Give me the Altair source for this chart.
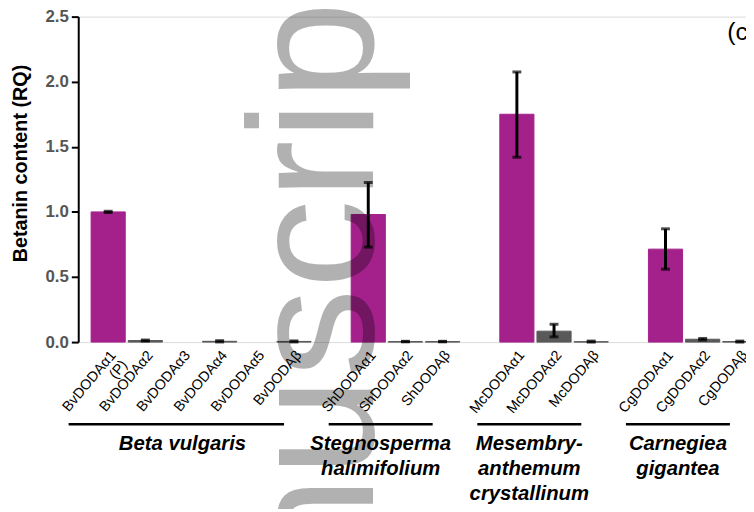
import altair as alt
import pandas as pd

FONT = "Liberation Sans, Arial, Helvetica, sans-serif"

# ---- data -------------------------------------------------------------
bv = ["BvDODAα1 (P)", "BvDODAα2", "BvDODAα3", "BvDODAα4", "BvDODAα5", "BvDODAβ"]
sh = ["ShDODAα1", "ShDODAα2", "ShDODAβ"]
mc = ["McDODAα1", "McDODAα2", "McDODAβ"]
cg = ["CgDODAα1", "CgDODAα2", "CgDODAβ"]
genes = bv + sh + mc + cg

values   = [1.00, 0.012, 0.0, 0.006, 0.0, 0.005,
            0.98, 0.004, 0.004,
            1.75, 0.084, 0.003,
            0.714, 0.022, 0.004]
err_low  = [0.995, 0.008, None, 0.001, None, 0.001,
            0.73, 0.002, 0.002,
            1.42, 0.04, 0.0,
            0.56, 0.016, 0.0]
err_high = [1.005, 0.016, None, 0.011, None, 0.009,
            1.226, 0.006, 0.006,
            2.075, 0.137, 0.008,
            0.87, 0.028, 0.008]
kinds = ["alpha1" if "α1" in g else "other" for g in genes]

# slot order along x (empty slots separate species)
slots = bv + ["gap1"] + sh + ["gap2"] + mc + ["gap3"] + cg

species = ["Beta vulgaris", "Stegnosperma\nhalimifolium",
           "Mesembry-\nanthemum\ncrystallinum", "Carnegiea\ngigantea"]
species_first = [bv[0], sh[0], mc[0], cg[0]]
species_last = [bv[-1], sh[-1], mc[-1], cg[-1]]
species_mid = [bv[2], sh[1], mc[1], cg[1]]

panel_label = ["(c)"]
watermark = ["manuscript"]

df = pd.DataFrame({"gene": genes, "value": values, "low": err_low,
                   "high": err_high, "kind": kinds})
sp = pd.DataFrame({"name": species, "first": species_first,
                   "last": species_last, "mid": species_mid,
                   "idx": list(range(len(species)))})

# ---- scales / axes ----------------------------------------------------
xscale = alt.Scale(domain=slots, range=[13, 686], paddingInner=0.081, paddingOuter=0)
nbsp = "\u00a0"
label_expr = ("indexof(datum.label, 'gap') == 0 ? '' : "
              "(datum.label == 'BvDODAα1 (P)' ? ['BvDODAα1', '(P)" + nbsp * 5 + "'] : datum.label)")
xaxis = alt.Axis(title=None, domain=False, ticks=False, labelAngle=-50,
                 labelAlign="right", labelBaseline="top", labelPadding=6,
                 labelFont=FONT, labelFontSize=14.5, labelColor="black",
                 labelExpr=label_expr, labelOverlap=False, labelLineHeight=15,
                 labelBound=False, labelFlush=False)
yscale = alt.Scale(domain=[0, 2.5], nice=False, zero=True)
yaxis = alt.Axis(values=[0, 0.5, 1, 1.5, 2, 2.5], format=".1f", grid=False,
                 labelFont=FONT, labelFontSize=17, labelFontWeight="bold",
                 labelColor="#555555", labelPadding=3,
                 tickColor="black", tickWidth=2, tickSize=7,
                 domainColor="black", domainWidth=2,
                 title="Betanin content (RQ)", titleFont=FONT, titleFontSize=20,
                 titleFontWeight="bold", titleColor="black", titleAngle=270,
                 titleX=-52, titleY=148, titleAlign="center",
                 titleBaseline="alphabetic")

X = lambda f: alt.X(f + ":N", scale=xscale, axis=xaxis, sort=slots, title=None)

color = alt.Color("kind:N", scale=alt.Scale(domain=["alpha1", "other"],
                                             range=["#A4218C", "#595959"]),
                  legend=None)

bars = alt.Chart(df).transform_filter("datum.value > 0").mark_bar(strokeWidth=1).encode(
    x=X("gene"),
    y=alt.Y("value:Q", scale=yscale, axis=yaxis),
    color=color, stroke=color,
)

errdf = alt.Chart(df).transform_filter("isValid(datum.low)")
err_rule = errdf.mark_rule(color="black", strokeWidth=3).encode(
    x=X("gene"),
    y=alt.Y("low:Q", scale=yscale, axis=yaxis),
    y2="high:Q",
)
cap_low = errdf.mark_tick(color="black", thickness=3, size=9).encode(
    x=X("gene"), y=alt.Y("low:Q", scale=yscale, axis=yaxis))
cap_high = errdf.mark_tick(color="black", thickness=3, size=9).encode(
    x=X("gene"), y=alt.Y("high:Q", scale=yscale, axis=yaxis))

group_lines = alt.Chart(sp).mark_rule(color="black", strokeWidth=2.5,
                                      xOffset=-40, x2Offset=-10).encode(
    x=X("first"), x2="last:N", y=alt.value(412))

text_props = dict(font=FONT, fontSize=20.5, fontWeight="bold", fontStyle="italic",
                  align="center", baseline="alphabetic", lineBreak="\n",
                  lineHeight=25.5, color="black")
group_text_bv = alt.Chart(sp).transform_filter("datum.idx == 0").mark_text(
    dx=0, **text_props).encode(x=X("mid"), y=alt.value(438), text="name:N")
group_text_rest = alt.Chart(sp).transform_filter("datum.idx > 0").mark_text(
    dx=-25, **text_props).encode(x=X("mid"), y=alt.value(438), text="name:N")

panel = alt.Chart(pd.DataFrame({"t": panel_label})).mark_text(
    font=FONT, fontSize=25, align="left", baseline="alphabetic", color="black"
).encode(x=alt.value(656), y=alt.value(24), text="t:N")

wm = alt.Chart(pd.DataFrame({"t": watermark})).mark_text(
    font=FONT, fontSize=180, angle=270, align="left", baseline="alphabetic",
    color="black", opacity=0.3
).encode(x=alt.value(298), y=alt.value(815), text="t:N")

chart = alt.layer(bars, err_rule, cap_low, cap_high, group_lines,
                  group_text_bv, group_text_rest, panel, wm).properties(
    width=675, height=329,
    autosize=alt.AutoSizeParams(type="none"),
    padding={"left": 71, "top": 6, "right": 0, "bottom": 166},
).configure_view(stroke=None).configure(background="white")

chart.save("out.html", embed_options={"renderer": "svg", "actions": False})
